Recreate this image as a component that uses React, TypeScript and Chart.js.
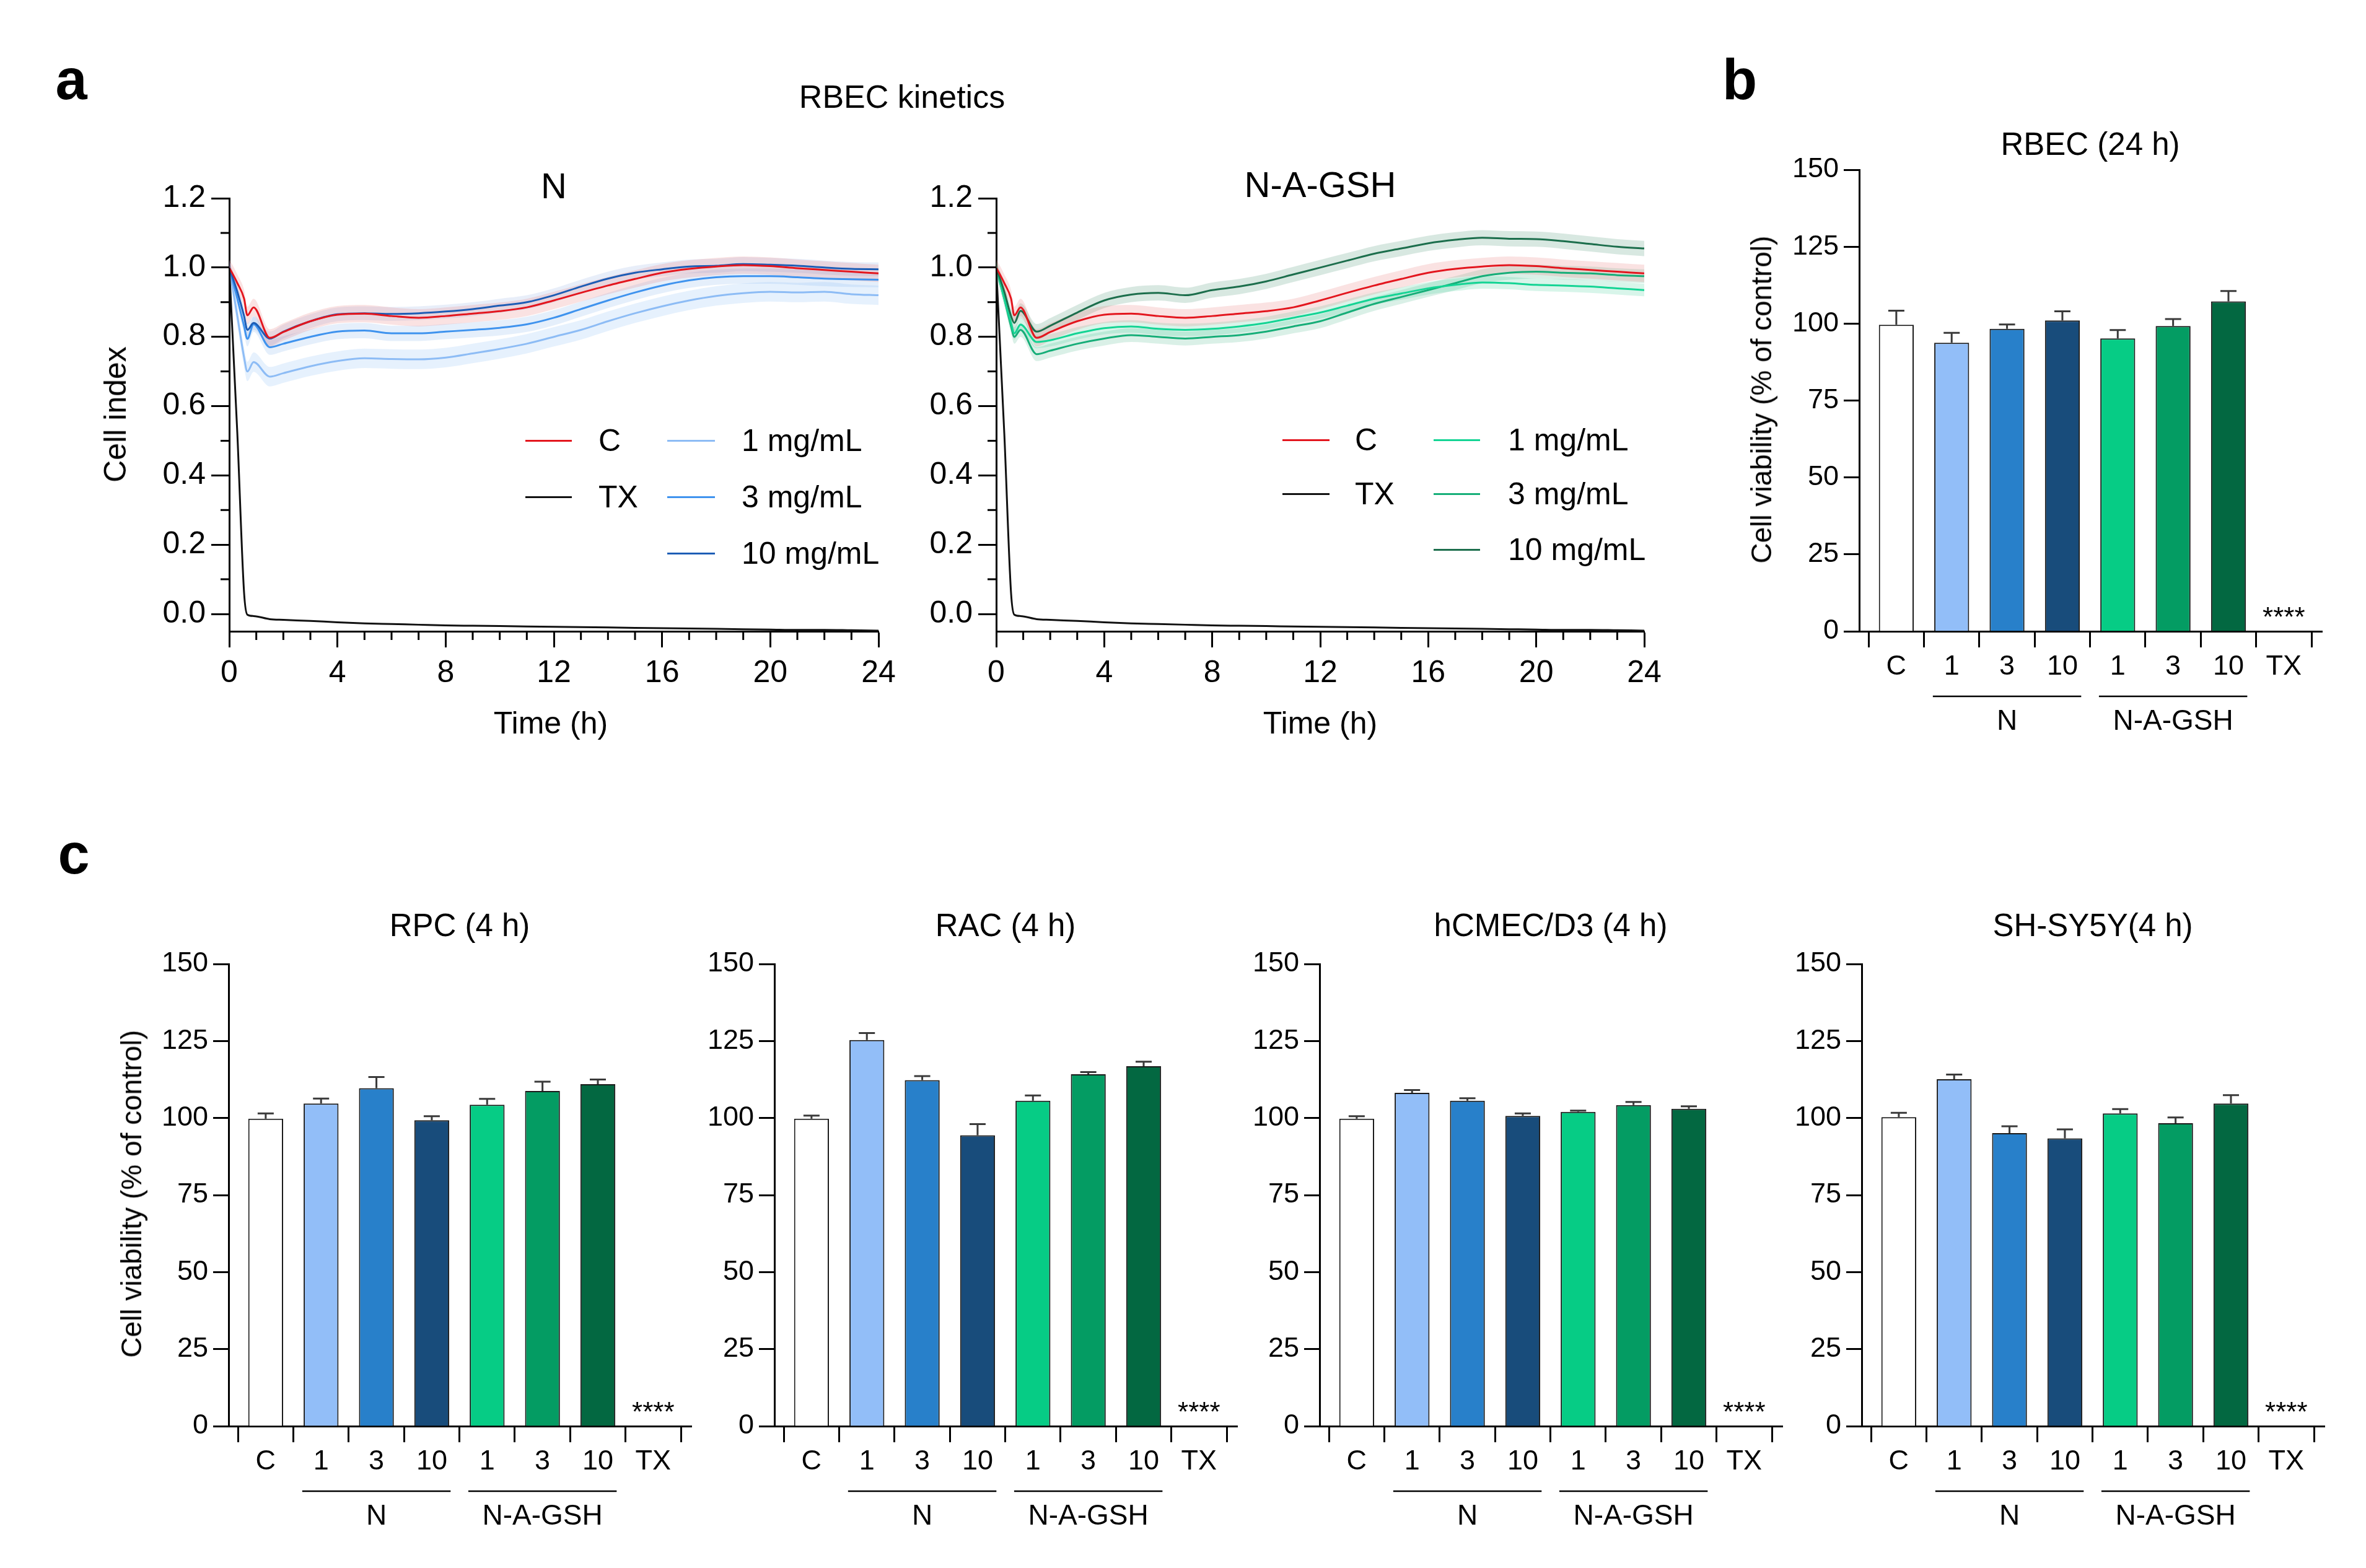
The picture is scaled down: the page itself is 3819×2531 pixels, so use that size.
import React, { useEffect, useRef } from "react";
import { Chart, registerables } from "chart.js";
Chart.register(...registerables);

const FONT = '"Liberation Sans", Arial, Helvetica, sans-serif';
Chart.defaults.font.family = FONT;
Chart.defaults.color = "#000";

// ---------- Panel a : kinetics ----------
const timeH = [0, 0.3, 0.55, 0.67, 0.9, 1.5, 2, 3, 4, 5, 6, 7, 8, 9, 10, 11, 12, 13, 14, 15, 16, 17, 18, 19, 20, 21, 22, 23, 24];
const controlC = [1.0, 0.955, 0.91, 0.862, 0.885, 0.797, 0.814, 0.845, 0.864, 0.867, 0.86, 0.855, 0.86, 0.867, 0.874, 0.885, 0.905, 0.927, 0.948, 0.967, 0.985, 0.996, 1.003, 1.007, 1.004, 0.998, 0.993, 0.988, 0.983];
const txValues = [1.0, 0.52, 0.06, -0.002, -0.006, -0.015, -0.017, -0.02, -0.024, -0.027, -0.029, -0.031, -0.033, -0.034, -0.035, -0.036, -0.037, -0.038, -0.039, -0.04, -0.041, -0.042, -0.043, -0.044, -0.045, -0.046, -0.046, -0.047, -0.048];
const n1 = [1.0, 0.86, 0.74, 0.70, 0.727, 0.685, 0.695, 0.715, 0.73, 0.738, 0.736, 0.735, 0.74, 0.752, 0.765, 0.78, 0.80, 0.82, 0.845, 0.868, 0.888, 0.905, 0.918, 0.926, 0.93, 0.928, 0.93, 0.923, 0.92];
const n3 = [1.0, 0.91, 0.83, 0.794, 0.836, 0.77, 0.78, 0.80, 0.815, 0.818, 0.81, 0.81, 0.815, 0.82, 0.826, 0.836, 0.855, 0.88, 0.905, 0.928, 0.948, 0.963, 0.972, 0.975, 0.975, 0.972, 0.968, 0.966, 0.965];
const n10 = [1.0, 0.93, 0.86, 0.82, 0.84, 0.795, 0.815, 0.845, 0.865, 0.868, 0.866, 0.868, 0.873, 0.88, 0.89, 0.9, 0.92, 0.945, 0.968, 0.985, 0.995, 1.003, 1.005, 1.01, 1.008, 1.005, 1.0, 0.996, 0.995];
const g1 = [1.0, 0.91, 0.84, 0.81, 0.835, 0.785, 0.79, 0.81, 0.825, 0.83, 0.823, 0.82, 0.823, 0.83, 0.84, 0.855, 0.87, 0.89, 0.91, 0.925, 0.94, 0.95, 0.957, 0.955, 0.95, 0.948, 0.945, 0.94, 0.935];
const g3 = [1.0, 0.91, 0.83, 0.80, 0.82, 0.75, 0.76, 0.78, 0.795, 0.805, 0.80, 0.795, 0.80, 0.805, 0.815, 0.83, 0.845, 0.87, 0.895, 0.915, 0.935, 0.955, 0.975, 0.985, 0.988, 0.985, 0.983, 0.978, 0.975];
const g10 = [1.0, 0.93, 0.86, 0.84, 0.875, 0.815, 0.832, 0.87, 0.905, 0.922, 0.927, 0.92, 0.935, 0.945, 0.96, 0.98, 1.0, 1.02, 1.04, 1.055, 1.07, 1.08, 1.086, 1.083, 1.082, 1.076, 1.068, 1.06, 1.055];
// SEM half-widths of the shaded bands
const bandC = 0.025;
const bandN = [0.028, 0.022, 0.02];
const bandG = [0.018, 0.02, 0.022];

const xTicksA = [0, 4, 8, 12, 16, 20, 24];
const yTicksA = [0, 0.2, 0.4, 0.6, 0.8, 1.0, 1.2];
const minorYA = [0.1, 0.3, 0.5, 0.7, 0.9, 1.1];
const minorXA = [1, 2, 3, 5, 6, 7, 9, 10, 11, 13, 14, 15, 17, 18, 19, 21, 22, 23];

const COL_C = "#E3161E";
const COL_N = ["#8DBCF5", "#3F93EE", "#1D5DB5"];
const COL_G = ["#14D494", "#16AE78", "#1C6E4C"];

// ---------- Bars (b, c) ----------
const barCategories = ["C", "1", "3", "10", "1", "3", "10", "TX"];
const barYTicks = [0, 25, 50, 75, 100, 125, 150];
const barColors = ["#FFFFFF", "#92BEF8", "#2880CA", "#184C7B", "#06CC85", "#049C63", "#036841", "rgba(0,0,0,0)"];

const rbec24 = [99.6, 93.8, 98.3, 101.0, 95.2, 99.2, 107.2, 0];
const rbec24Err = [4.6, 3.2, 1.4, 3.0, 2.7, 2.3, 3.4, 0];
const rpc4 = [99.8, 104.7, 109.7, 99.3, 104.3, 108.8, 111.0, 0];
const rpc4Err = [1.7, 1.6, 3.6, 1.3, 1.9, 3.0, 1.5, 0];
const rac4 = [99.8, 125.3, 112.3, 94.4, 105.6, 114.2, 116.8, 0];
const rac4Err = [1.0, 2.3, 1.3, 3.6, 1.7, 0.7, 1.5, 0];
const hcmec4 = [99.8, 108.2, 105.6, 100.7, 102.0, 104.2, 103.0, 0];
const hcmec4Err = [0.8, 0.9, 0.8, 0.8, 0.4, 1.0, 0.8, 0];
const shsy5y4 = [100.3, 112.6, 95.1, 93.4, 101.5, 98.3, 104.7, 0];
const shsy5y4Err = [1.4, 1.5, 2.2, 2.9, 1.4, 1.9, 2.7, 0];

type Area = { l: number; t: number; r: number; b: number };

function axisGrid(tickLength: number) {
  return { drawOnChartArea: false, drawTicks: true, tickLength, tickWidth: 3, tickColor: "#000" };
}
const border = { display: true, color: "#000", width: 3 };

type Series = { values: number[]; color: string; band: number; bandColor: string };

function buildKinetic(canvas: HTMLCanvasElement, series: Series[], pad: any, wy: number, hx: number) {
  const datasets: any[] = [];
  series.forEach((s) => {
    datasets.push({ data: timeH.map((t, i) => ({ x: t, y: s.values[i] + s.band })), borderWidth: 0, pointRadius: 0, fill: "+1", backgroundColor: s.bandColor, order: 3, cubicInterpolationMode: "monotone" });
    datasets.push({ data: timeH.map((t, i) => ({ x: t, y: s.values[i] - s.band })), borderWidth: 0, pointRadius: 0, fill: false, order: 3, cubicInterpolationMode: "monotone" });
  });
  series.forEach((s) => {
    datasets.push({ data: timeH.map((t, i) => ({ x: t, y: s.values[i] })), borderColor: s.color, borderWidth: 3, pointRadius: 0, fill: false, order: 1, cubicInterpolationMode: "monotone" });
  });
  datasets.push({ data: timeH.map((t, i) => ({ x: t, y: txValues[i] })), borderColor: "#111", borderWidth: 3, pointRadius: 0, fill: false, order: 0, cubicInterpolationMode: "monotone" });

  const minorTicks = {
    id: "minorTicks",
    afterDraw(chart: any) {
      const { ctx, chartArea, scales } = chart;
      ctx.save();
      ctx.strokeStyle = "#000";
      ctx.lineWidth = 3;
      ctx.beginPath();
      minorYA.forEach((v) => {
        const py = scales.y.getPixelForValue(v);
        ctx.moveTo(chartArea.left - 14, py);
        ctx.lineTo(chartArea.left, py);
      });
      minorXA.forEach((h) => {
        const px = scales.x.getPixelForValue(h);
        ctx.moveTo(px, chartArea.bottom);
        ctx.lineTo(px, chartArea.bottom + 14);
      });
      ctx.stroke();
      ctx.restore();
    },
  };

  return new Chart(canvas, {
    type: "line",
    data: { datasets },
    plugins: [minorTicks],
    options: {
      animation: false,
      responsive: false,
      devicePixelRatio: 1,
      events: [],
      layout: { padding: pad },
      plugins: { legend: { display: false }, title: { display: false }, tooltip: { enabled: false } },
      scales: {
        x: {
          type: "linear", min: 0, max: 24,
          afterBuildTicks: (s: any) => { s.ticks = xTicksA.map((v) => ({ value: v })); },
          ticks: { font: { size: 50 }, color: "#000", padding: 12, maxRotation: 0, autoSkip: false, callback: (v: any) => String(v) },
          grid: axisGrid(26), border,
          afterFit: (s: any) => { s.height = hx; s.paddingLeft = 0; s.paddingRight = 0; },
        },
        y: {
          type: "linear", min: -0.05, max: 1.2,
          afterBuildTicks: (s: any) => { s.ticks = yTicksA.map((v) => ({ value: v })); },
          ticks: { font: { size: 50 }, color: "#000", padding: 9, autoSkip: false, callback: (v: any) => Number(v).toFixed(1) },
          grid: axisGrid(29), border,
          afterFit: (s: any) => { s.width = wy; s.paddingTop = 0; s.paddingBottom = 0; },
        },
      },
    } as any,
  });
}

function buildBars(canvas: HTMLCanvasElement, values: number[], errs: number[], pad: any, wy: number, hx: number) {
  const extras = {
    id: "barExtras",
    afterDatasetsDraw(chart: any) {
      const { ctx, scales } = chart;
      ctx.save();
      ctx.strokeStyle = "#3a3a3a";
      ctx.lineWidth = 3;
      values.forEach((v, i) => {
        if (!errs[i]) return;
        const px = scales.x.getPixelForValue(i);
        const top = scales.y.getPixelForValue(v);
        const cap = scales.y.getPixelForValue(v + errs[i]);
        ctx.beginPath();
        ctx.moveTo(px, top);
        ctx.lineTo(px, cap);
        ctx.moveTo(px - 13, cap);
        ctx.lineTo(px + 13, cap);
        ctx.stroke();
      });
      ctx.restore();
    },
    afterDraw(chart: any) {
      const { ctx, scales, chartArea } = chart;
      const x = scales.x;
      const base = chartArea.bottom;
      ctx.save();
      ctx.strokeStyle = "#000";
      ctx.lineWidth = 2.5;
      ctx.beginPath();
      ctx.moveTo(x.getPixelForValue(1 - 0.34), base + 105);
      ctx.lineTo(x.getPixelForValue(3 + 0.34), base + 105);
      ctx.moveTo(x.getPixelForValue(4 - 0.34), base + 105);
      ctx.lineTo(x.getPixelForValue(6 + 0.34), base + 105);
      ctx.stroke();
      ctx.fillStyle = "#000";
      ctx.font = `46px ${FONT}`;
      ctx.textAlign = "center";
      ctx.textBaseline = "middle";
      ctx.fillText("N", x.getPixelForValue(2), base + 146);
      ctx.fillText("N-A-GSH", x.getPixelForValue(5), base + 146);
      ctx.font = `44px ${FONT}`;
      ctx.textBaseline = "alphabetic";
      ctx.fillText("****", x.getPixelForValue(7), base - 8);
      ctx.restore();
    },
  };

  return new Chart(canvas, {
    type: "bar",
    data: {
      datasets: [{
        data: values.map((v, i) => ({ x: i, y: v })),
        backgroundColor: barColors,
        borderColor: "#1a1a1a",
        borderWidth: 2,
        barPercentage: 0.63,
        categoryPercentage: 1,
      }],
    },
    plugins: [extras],
    options: {
      animation: false,
      responsive: false,
      devicePixelRatio: 1,
      events: [],
      layout: { padding: pad },
      plugins: { legend: { display: false }, title: { display: false }, tooltip: { enabled: false } },
      scales: {
        x: {
          type: "linear", min: -0.67, max: 7.69, offset: false,
          afterBuildTicks: (s: any) => { s.ticks = barCategories.map((_, i) => ({ value: i })); },
          ticks: { font: { size: 45 }, color: "#000", padding: 5, maxRotation: 0, autoSkip: false, callback: (v: any) => barCategories[Math.round(Number(v))] },
          grid: axisGrid(26), border,
          afterFit: (s: any) => { s.height = hx; s.paddingLeft = 0; s.paddingRight = 0; },
        },
        y: {
          type: "linear", min: 0, max: 150,
          afterBuildTicks: (s: any) => { s.ticks = barYTicks.map((v) => ({ value: v })); },
          ticks: { font: { size: 45 }, color: "#000", padding: 8, autoSkip: false, callback: (v: any) => String(v) },
          grid: axisGrid(25), border,
          afterFit: (s: any) => { s.width = wy; s.paddingTop = 0; s.paddingBottom = 0; },
        },
      },
    } as any,
  });
}

function ChartBox({ area, ml, mt, mr, mb, build }: { area: Area; ml: number; mt: number; mr: number; mb: number; build: (c: HTMLCanvasElement, pad: any, wy: number, hx: number) => Chart }) {
  const ref = useRef<HTMLCanvasElement>(null);
  const w = area.r - area.l + ml + mr;
  const h = area.b - area.t + mt + mb;
  useEffect(() => {
    const padLeft = 10;
    const chart = build(ref.current as HTMLCanvasElement, { left: padLeft, top: mt, right: mr, bottom: 0 }, ml - padLeft, mb);
    return () => chart.destroy();
  }, []);
  return <canvas ref={ref} width={w} height={h} style={{ position: "absolute", left: area.l - ml, top: area.t - mt, width: w, height: h }} />;
}

function Txt({ x, y, size, children, rotate, bold }: { x: number; y: number; size: number; children: any; rotate?: boolean; bold?: boolean }) {
  return (
    <div style={{ position: "absolute", left: x, top: y, fontSize: size, lineHeight: 1, whiteSpace: "nowrap", fontWeight: bold ? 700 : 400, transform: `translate(-50%, -50%)${rotate ? " rotate(-90deg)" : ""}` }}>
      {children}
    </div>
  );
}

function Letter({ x, baseline, children }: { x: number; baseline: number; children: any }) {
  const fs = 92;
  return (
    <div style={{ position: "absolute", left: x, top: baseline - 0.8465 * fs, fontSize: fs, lineHeight: 1, fontWeight: 700, transform: "translateX(-50%)" }}>{children}</div>
  );
}

function LegendItem({ x1, x2, tx, cy, color, label }: { x1: number; x2: number; tx: number; cy: number; color: string; label: string }) {
  return (
    <>
      <div style={{ position: "absolute", left: x1, top: cy - 1.5, width: x2 - x1, height: 3, background: color }} />
      <div style={{ position: "absolute", left: tx, top: cy - 25, fontSize: 50, lineHeight: 1, whiteSpace: "nowrap" }}>{label}</div>
    </>
  );
}

const legendLabels = ["C", "TX", "1 mg/mL", "3 mg/mL", "10 mg/mL"];

export default function App() {
  const seriesN: Series[] = [
    { values: controlC, color: COL_C, band: bandC, bandColor: "rgba(232,110,110,0.2)" },
    { values: n10, color: COL_N[2], band: bandN[2], bandColor: "rgba(110,150,220,0.16)" },
    { values: n3, color: COL_N[1], band: bandN[1], bandColor: "rgba(110,165,235,0.18)" },
    { values: n1, color: COL_N[0], band: bandN[0], bandColor: "rgba(140,190,245,0.22)" },
  ];
  const seriesG: Series[] = [
    { values: controlC, color: COL_C, band: bandC, bandColor: "rgba(232,110,110,0.2)" },
    { values: g10, color: COL_G[2], band: bandG[2], bandColor: "rgba(40,130,90,0.18)" },
    { values: g1, color: COL_G[0], band: bandG[0], bandColor: "rgba(40,200,140,0.18)" },
    { values: g3, color: COL_G[1], band: bandG[1], bandColor: "rgba(50,170,120,0.18)" },
  ];

  const aLeft: Area = { l: 370, t: 320, r: 1418, b: 1019 };
  const aRight: Area = { l: 1608, t: 320, r: 2654, b: 1019 };
  const bArea: Area = { l: 3001, t: 274, r: 3748, b: 1019 };
  const cLefts = [369, 1250, 2130, 3005];
  const cData = [[rpc4, rpc4Err], [rac4, rac4Err], [hcmec4, hcmec4Err], [shsy5y4, shsy5y4Err]];
  const cTitles = ["RPC (4 h)", "RAC (4 h)", "hCMEC/D3 (4 h)", "SH-SY5Y(4 h)"];

  return (
    <div style={{ position: "absolute", left: 0, top: 0, width: 3819, height: 2531, background: "#fff", overflow: "hidden", fontFamily: FONT, color: "#000" }}>
      <ChartBox area={aLeft} ml={170} mt={40} mr={60} mb={110} build={(c, p, wy, hx) => buildKinetic(c, seriesN, p, wy, hx)} />
      <ChartBox area={aRight} ml={170} mt={40} mr={60} mb={110} build={(c, p, wy, hx) => buildKinetic(c, seriesG, p, wy, hx)} />
      <ChartBox area={bArea} ml={150} mt={40} mr={50} mb={200} build={(c, p, wy, hx) => buildBars(c, rbec24, rbec24Err, p, wy, hx)} />
      {cLefts.map((l, i) => (
        <ChartBox key={i} area={{ l, t: 1556, r: l + 747, b: 2302 }} ml={150} mt={40} mr={50} mb={200} build={(c, p, wy, hx) => buildBars(c, cData[i][0], cData[i][1], p, wy, hx)} />
      ))}

      <Letter x={115} baseline={160}>a</Letter>
      <Letter x={2808} baseline={160}>b</Letter>
      <Letter x={119} baseline={1410}>c</Letter>

      <Txt x={1456} y={156} size={52}>RBEC kinetics</Txt>
      <Txt x={894} y={300} size={58}>N</Txt>
      <Txt x={2131} y={298} size={58}>N-A-GSH</Txt>
      <Txt x={186} y={669} size={50} rotate>Cell index</Txt>
      <Txt x={889} y={1167} size={50}>Time (h)</Txt>
      <Txt x={2131} y={1167} size={50}>Time (h)</Txt>

      <LegendItem x1={848} x2={923} tx={966} cy={711} color={COL_C} label={legendLabels[0]} />
      <LegendItem x1={848} x2={923} tx={966} cy={802} color="#111" label={legendLabels[1]} />
      <LegendItem x1={1077} x2={1154} tx={1197} cy={711} color={COL_N[0]} label={legendLabels[2]} />
      <LegendItem x1={1077} x2={1154} tx={1197} cy={802} color={COL_N[1]} label={legendLabels[3]} />
      <LegendItem x1={1077} x2={1154} tx={1197} cy={893} color={COL_N[2]} label={legendLabels[4]} />

      <LegendItem x1={2070} x2={2146} tx={2187} cy={710} color={COL_C} label={legendLabels[0]} />
      <LegendItem x1={2070} x2={2146} tx={2187} cy={797} color="#111" label={legendLabels[1]} />
      <LegendItem x1={2314} x2={2389} tx={2434} cy={710} color={COL_G[0]} label={legendLabels[2]} />
      <LegendItem x1={2314} x2={2389} tx={2434} cy={797} color={COL_G[1]} label={legendLabels[3]} />
      <LegendItem x1={2314} x2={2389} tx={2434} cy={887} color={COL_G[2]} label={legendLabels[4]} />

      <Txt x={3374} y={232} size={51}>RBEC (24 h)</Txt>
      <Txt x={2843} y={645} size={46} rotate>Cell viability (% of control)</Txt>
      <Txt x={212} y={1927} size={46} rotate>Cell viability (% of control)</Txt>
      {cLefts.map((l, i) => (
        <Txt key={i} x={l + 373} y={1493} size={51}>{cTitles[i]}</Txt>
      ))}
    </div>
  );
}
